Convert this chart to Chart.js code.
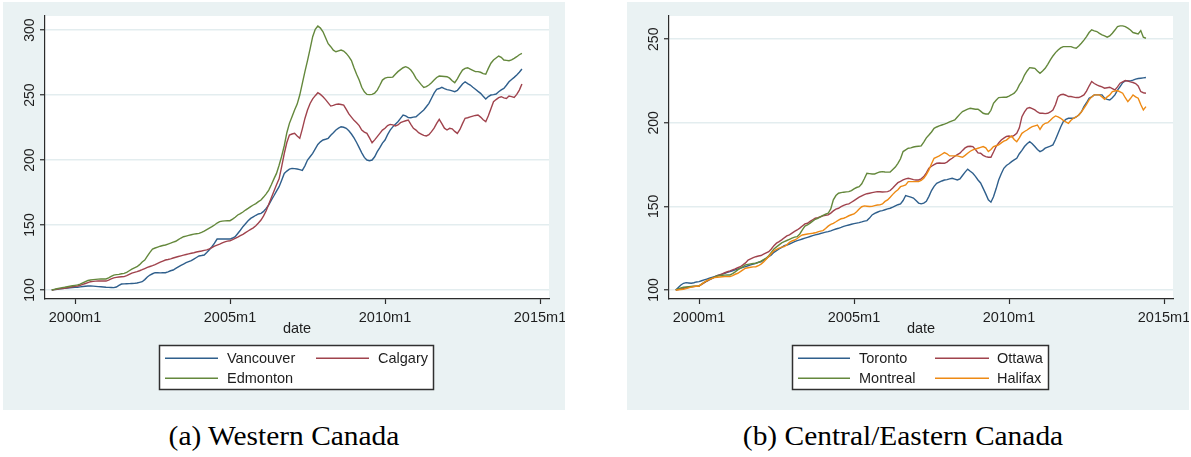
<!DOCTYPE html>
<html>
<head>
<meta charset="utf-8">
<script src="https://cdn.jsdelivr.net/npm/chart.js@4.4.0/dist/chart.umd.min.js"></script>
<style>
  html, body { margin: 0; padding: 0; background: #fff; width: 1191px; height: 457px; overflow: hidden; position: relative; }
  canvas { position: absolute; }
  #west { left: 3px; top: 2px; }
  #east { left: 627px; top: 2px; }
  .cap { position: absolute; top: 423px; font-family: "Liberation Serif", "Times New Roman", serif; font-size: 27px; line-height: 1; white-space: nowrap; color: #000; transform: translateX(-50%) scaleX(1.09); }
</style>
</head>
<body>
<canvas id="west" width="562" height="408"></canvas>
<canvas id="east" width="562" height="408"></canvas>
<div class="cap" style="left:284px">(a) Western Canada</div>
<div class="cap" style="left:903px">(b) Central/Eastern Canada</div>
<script>
// Monthly house price indices, first observation = 1999m4 (index 100)
const FIRST_YEAR = 1999;
const FIRST_MONTH = 4;

const vancouver = [
  100, 100.3, 100.6, 100.9, 101.1, 101.3, 101.5, 101.7, 101.9,
  102.0, 102.1, 102.4, 102.7, 102.9, 103.1, 103.1, 103.0, 102.8, 102.6, 102.5, 102.3,
  102.1, 102.0, 101.9, 101.8, 102.3, 103.5, 104.6, 104.7, 104.8, 104.9, 105.0, 105.1,
  105.4, 105.9, 106.4, 108.0, 110.0, 111.5, 112.5, 113.3, 113.3, 113.2, 113.3, 113.3,
  114.0, 114.8, 115.4, 116.6, 117.8, 119.0, 120.0, 121.0, 121.8, 122.6, 123.8, 125.0,
  126.2, 126.5, 126.9, 128.8, 131.0, 133.3, 136.0, 139.2, 139.3, 139.2, 139.2, 139.2,
  139.2, 140.0, 141.0, 143.5, 146.0, 148.7, 151.0, 153.2, 155.1, 156.3, 157.5, 158.5,
  159.0, 160.5, 162.8, 165.5, 169.2, 172.5, 176.0, 179.5, 184.5, 189.7, 191.5, 193.0,
  193.6, 193.4, 193.1, 192.6, 192.0, 195.5, 200.0, 202.5, 205.1, 208.5, 212.0, 214.0,
  215.4, 216.0, 216.7, 219.0, 221.0, 223.1, 224.5, 225.6, 225.2, 224.4, 222.5, 220.0,
  217.0, 213.5, 209.5, 205.5, 202.0, 200.0, 199.5, 200.0, 202.5, 206.4, 209.5, 213.0,
  215.4, 219.5, 223.0, 225.5, 227.5, 229.5, 232.0, 234.6, 234.0, 232.6, 232.5, 233.0,
  233.3, 235.0, 236.8, 238.5, 241.0, 243.6, 247.5, 251.5, 254.4, 255.0, 255.9, 255.0,
  254.2, 253.8, 253.2, 252.6, 253.5, 256.0, 258.5, 260.2, 258.8, 257.7, 256.0, 254.4,
  252.8, 251.3, 249.0, 246.9, 248.8, 250.0, 250.3, 250.8, 252.5, 254.0, 255.1, 257.5,
  260.2, 262.0, 263.6, 265.5, 267.5, 270.0
];

const calgary = [
  100, 100.3, 100.6, 100.9, 101.1, 101.3, 101.7, 102.1, 102.5,
  102.8, 103.1, 103.6, 104.3, 105.0, 105.7, 106.4, 106.6, 106.8, 106.9, 106.9, 106.9,
  106.9, 107.6, 108.5, 109.3, 109.7, 110.0, 110.2, 110.3, 111.0, 112.0, 113.0, 113.6,
  114.1, 114.8, 115.6, 116.5, 117.4, 118.1, 118.8, 119.6, 120.5, 121.4, 122.3, 123.1,
  123.5, 124.0, 124.6, 125.2, 125.8, 126.3, 126.8, 127.3, 127.8, 128.3, 128.7, 129.2,
  129.6, 130.0, 130.5, 130.9, 131.7, 132.7, 133.7, 134.6, 135.3, 136.2, 137.0, 137.6,
  137.9, 138.7, 139.7, 140.7, 141.8, 142.8, 144.1, 145.4, 146.6, 147.8, 149.5, 151.5,
  153.8, 157.0, 161.0, 166.0, 171.0, 176.0, 181.0, 185.5, 195.0, 205.0, 213.5, 219.2,
  220.0, 220.5, 218.5, 216.7, 224.0, 232.0, 238.5, 243.5, 247.0, 249.5, 251.8, 250.5,
  248.7, 246.5, 244.0, 241.5, 242.0, 242.8, 243.1, 242.7, 242.3, 239.0, 235.5, 233.0,
  230.5, 228.7, 226.5, 223.1, 221.5, 220.5, 217.0, 213.3, 215.5, 218.0, 220.5, 223.0,
  224.4, 226.5, 227.4, 227.0, 226.2, 227.0, 228.7, 229.5, 230.2, 230.8, 227.5, 224.4,
  223.0, 221.0, 220.0, 219.0, 218.5, 219.5, 221.8, 224.5, 228.2, 231.3, 228.0, 224.5,
  223.1, 224.4, 224.0, 222.0, 220.5, 223.5, 228.0, 232.1, 232.5, 233.2, 233.8, 234.3,
  234.6, 233.0, 231.0, 229.5, 234.0, 239.5, 244.9, 246.5, 248.0, 248.7, 247.8, 247.4,
  249.2, 248.8, 248.2, 250.5, 253.8, 258.5
];

const edmonton = [
  100, 100.5, 101.0, 101.4, 101.8, 102.1, 102.5, 102.9, 103.3,
  103.6, 103.9, 104.5, 105.5, 106.5, 107.3, 107.7, 108.0, 108.2, 108.4, 108.5, 108.5,
  108.5, 109.3, 110.5, 111.5, 111.8, 112.0, 112.5, 112.8, 113.5, 114.8, 116.0, 117.0,
  117.9, 119.5, 121.5, 123.0, 126.0, 129.0, 131.5, 132.3, 133.0, 133.7, 134.2, 134.6,
  135.3, 136.0, 136.8, 137.5, 138.8, 140.0, 141.0, 141.5, 142.0, 142.5, 143.0, 143.3,
  143.6, 144.3, 145.3, 146.5, 147.6, 148.7, 150.0, 151.5, 152.6, 153.0, 153.2, 153.3,
  153.3, 154.5, 156.0, 157.7, 158.8, 160.0, 161.5, 162.8, 164.2, 165.4, 166.5, 168.0,
  169.2, 171.5, 174.0, 176.9, 181.0, 185.5, 189.7, 196.0, 203.0, 211.0, 221.0, 228.2,
  233.3, 238.5, 243.0, 250.0, 259.0, 268.0, 276.5, 285.5, 294.9, 300.5, 303.1, 301.5,
  298.7, 294.0, 289.5, 287.2, 284.5, 283.3, 284.0, 284.6, 283.8, 282.0, 279.5, 276.5,
  271.0, 266.0, 261.5, 256.0, 252.5, 250.5, 250.3, 250.5, 251.5, 253.8, 257.5, 261.5,
  263.0, 263.6, 263.6, 263.8, 266.0, 268.0, 269.5, 271.0, 271.8, 271.0, 269.2, 266.5,
  262.8, 260.5, 258.0, 255.9, 256.5, 257.7, 259.5, 261.5, 263.5, 264.6, 264.5, 264.3,
  264.1, 263.0, 261.0, 259.5, 262.5, 266.0, 269.2, 270.5, 271.0, 270.0, 269.0, 268.0,
  268.0, 267.5, 266.5, 266.0, 270.5, 274.5, 276.9, 278.5, 280.0, 279.0, 276.9, 276.7,
  276.4, 277.0, 278.2, 279.5, 281.0, 282.0
];

const toronto = [
  100, 101.5, 103.0, 104.0, 104.4, 104.2, 104.0, 104.3, 104.8,
  105.0, 105.5, 106.0, 106.5, 107.0, 107.5, 108.0, 108.5, 109.0, 109.5, 110.0, 110.5,
  111.0, 111.5, 112.0, 112.5, 113.0, 113.5, 114.0, 114.5, 115.0, 115.5, 116.0, 116.6,
  116.9, 117.8, 118.8, 119.9, 121.0, 122.5, 123.5, 124.5, 125.5, 126.5, 126.9, 127.5,
  128.2, 128.9, 129.5, 130.0, 130.5, 131.0, 131.5, 132.0, 132.5, 133.0, 133.3, 133.8,
  134.2, 134.6, 134.9, 135.4, 136.0, 136.5, 136.9, 137.4, 138.0, 138.5, 138.9, 139.3,
  139.7, 140.0, 140.3, 140.7, 141.2, 141.5, 143.0, 144.9, 145.8, 146.5, 147.2, 147.5,
  148.0, 148.5, 148.9, 149.5, 150.3, 151.0, 151.5, 153.5, 156.5, 156.0, 155.5, 155.0,
  153.5, 152.0, 151.5, 152.0, 153.0, 156.0, 159.5, 162.0, 163.8, 164.5, 165.2, 165.8,
  166.0, 166.5, 166.8, 166.3, 165.8, 166.5, 168.5, 170.5, 172.3, 171.0, 169.8, 168.0,
  165.8, 164.0, 160.8, 157.5, 153.9, 152.5, 155.8, 160.5, 165.8, 169.5, 172.8, 174.5,
  175.5, 176.8, 177.8, 178.8, 181.5, 183.5, 185.8, 187.5, 188.7, 187.5, 185.8, 184.0,
  182.8, 183.5, 184.8, 185.5, 186.0, 186.8, 190.0, 193.8, 197.5, 200.7, 202.0, 202.7,
  202.7, 202.7, 203.5, 204.7, 206.5, 209.7, 212.0, 214.7, 215.5, 216.7, 216.7, 216.7,
  216.7, 214.7, 214.0, 213.7, 215.0, 216.7, 219.5, 221.7, 224.0, 225.1, 225.1, 225.1,
  225.5, 226.1, 226.5, 226.7, 226.9, 227.1
];

const ottawa = [
  100, 100.3, 100.7, 101.0, 101.3, 101.6, 101.9, 102.1, 102.3,
  102.4, 103.3, 104.2, 105.2, 106.0, 106.8, 107.7, 108.5, 109.0, 109.6, 110.3, 110.9,
  111.4, 112.0, 112.6, 113.3, 113.9, 115.0, 116.2, 117.9, 118.6, 119.3, 119.9, 120.3,
  120.6, 121.4, 122.2, 122.9, 124.5, 126.5, 128.0, 128.9, 130.0, 131.2, 132.3, 133.0,
  134.0, 135.0, 135.9, 137.0, 138.3, 139.5, 139.9, 141.0, 142.0, 142.9, 143.3, 143.8,
  144.3, 144.6, 144.9, 146.0, 147.3, 148.4, 148.9, 149.8, 150.6, 151.2, 151.5, 152.5,
  153.5, 154.5, 155.5, 156.3, 157.0, 157.6, 157.9, 158.2, 158.5, 158.8, 158.8, 158.6,
  158.7, 158.8, 159.5, 161.0, 162.7, 164.2, 165.0, 165.8, 166.5, 166.8, 166.5, 166.0,
  165.8, 165.8, 166.5, 167.8, 170.0, 172.8, 174.0, 175.0, 175.8, 176.0, 175.8, 175.8,
  176.5, 177.8, 178.8, 180.0, 181.0, 181.8, 183.5, 185.0, 185.8, 186.0, 185.8, 184.0,
  182.0, 181.8, 180.5, 179.8, 179.4, 179.4, 182.5, 185.8, 188.0, 189.7, 190.8, 191.8,
  192.1, 191.7, 192.5, 193.7, 197.0, 203.7, 206.5, 208.7, 209.1, 208.5, 207.7, 206.5,
  205.7, 205.7, 205.5, 205.7, 206.5, 207.7, 211.0, 215.7, 216.8, 217.1, 216.5, 215.7,
  215.7, 215.4, 215.1, 215.1, 215.8, 216.7, 219.0, 222.0, 224.7, 223.5, 222.7, 222.0,
  221.5, 220.7, 221.0, 221.3, 220.5, 219.7, 221.5, 223.7, 224.5, 225.3, 225.0, 224.5,
  224.1, 223.5, 222.1, 218.7, 218.0, 217.7
];

const montreal = [
  100, 100.6, 101.2, 101.6, 101.8, 102.0, 102.1, 102.2, 102.3,
  102.4, 103.5, 104.6, 105.5, 106.3, 107.0, 107.7, 108.4, 108.6, 108.8, 108.9, 109.0,
  109.0, 109.8, 110.8, 112.0, 113.0, 114.0, 115.0, 115.3, 115.6, 115.8, 116.0, 116.5,
  117.2, 118.1, 119.0, 120.5, 122.5, 124.5, 125.8, 127.0, 128.2, 128.9, 129.6, 130.3,
  131.0, 131.6, 131.9, 133.5, 136.0, 138.2, 138.9, 140.0, 141.2, 142.3, 142.9, 143.7,
  144.6, 145.3, 145.9, 148.5, 153.9, 156.5, 157.9, 158.2, 158.5, 158.7, 158.8, 159.5,
  160.5, 161.3, 161.8, 163.5, 166.5, 169.8, 169.6, 169.4, 169.4, 170.0, 170.6, 170.8,
  170.6, 170.5, 170.5, 172.0, 173.5, 175.8, 178.5, 182.8, 183.8, 184.8, 185.0, 185.5,
  185.8, 186.0, 186.2, 188.5, 191.0, 192.7, 194.5, 196.7, 197.5, 198.2, 198.7, 199.2,
  199.8, 200.5, 201.2, 201.7, 203.5, 205.2, 206.7, 207.5, 208.2, 208.7, 208.4, 208.1,
  208.1, 207.0, 205.7, 205.3, 205.3, 207.5, 211.7, 213.5, 215.1, 215.2, 215.3, 215.3,
  216.0, 216.8, 217.7, 219.5, 222.7, 225.0, 228.6, 231.0, 233.0, 232.8, 232.6, 231.0,
  229.6, 231.0, 232.6, 235.0, 237.6, 240.0, 242.0, 243.6, 244.8, 245.6, 245.6, 245.6,
  245.6, 245.0, 244.6, 246.0, 247.6, 249.5, 251.6, 254.0, 255.6, 255.0, 254.6, 253.5,
  252.6, 252.0, 251.2, 252.0, 253.6, 255.5, 257.6, 258.0, 258.0, 257.5, 256.6, 255.5,
  254.0, 253.6, 253.2, 255.2, 251.2, 250.6
];

const halifax = [
  100, 100.1, 100.3, 100.4, 100.8, 101.3, 101.7, 102.0, 102.2,
  102.4, 103.5, 104.6, 105.6, 106.3, 106.9, 107.4, 107.6, 107.8, 107.9, 108.0, 108.0,
  108.0, 108.6, 109.4, 110.0, 111.0, 112.0, 113.0, 113.3, 113.6, 113.8, 113.9, 114.5,
  115.5, 116.8, 118.4, 120.0, 121.8, 123.5, 124.3, 125.0, 125.6, 125.9, 127.0, 128.5,
  129.3, 129.9, 130.8, 132.0, 132.9, 133.2, 133.5, 133.7, 133.9, 134.2, 134.8, 135.2,
  135.5, 136.8, 138.2, 139.2, 139.9, 140.8, 141.8, 142.6, 142.9, 143.6, 144.4, 145.0,
  145.5, 146.8, 148.4, 149.8, 150.3, 150.1, 149.9, 150.0, 150.5, 150.8, 150.9, 151.5,
  153.0, 153.9, 155.5, 157.2, 158.8, 160.0, 161.8, 162.3, 162.8, 164.8, 164.8, 164.8,
  164.8, 164.8, 165.5, 166.8, 169.0, 171.8, 175.5, 178.8, 179.5, 180.2, 181.2, 182.2,
  181.5, 180.2, 180.2, 180.2, 180.2, 179.8, 179.4, 180.5, 181.8, 183.0, 183.8, 184.3,
  184.8, 185.3, 185.8, 185.0, 182.8, 184.0, 185.8, 186.3, 186.8, 188.0, 189.0, 189.7,
  191.0, 192.1, 190.0, 188.7, 191.0, 193.7, 194.8, 195.7, 196.8, 197.7, 198.2, 198.7,
  196.1, 198.5, 199.7, 200.1, 201.5, 203.0, 204.1, 203.5, 202.7, 201.5, 200.5, 199.7,
  201.5, 202.7, 203.5, 204.7, 206.5, 208.7, 211.0, 213.7, 215.5, 216.7, 216.7, 216.7,
  215.5, 214.1, 215.5, 216.7, 218.7, 219.0, 219.3, 218.5, 217.7, 215.0, 212.7, 214.5,
  216.7, 215.5, 214.7, 211.0, 207.7, 209.7
];

const westTicksY = [100, 150, 200, 250, 300];
const eastTicksY = [100, 150, 200, 250];
const dateTicks = [2000, 2005, 2010, 2015];
const dateTickLabels = ['2000m1', '2005m1', '2010m1', '2015m1'];

// Stata s2color look
const GRAPH_BG = '#EAF2F3';
const GRID = '#E3EDEF';
const AXIS = '#2b2b2b';
const TEXT = '#1e1e1e';
const SANS = '"Liberation Sans", Arial, Helvetica, sans-serif';
const COLORS = { navy: '#2F5F8C', maroon: '#A0434D', green: '#64883C', orange: '#EE8A14' };

function monthToYear(i) {
  return FIRST_YEAR + (FIRST_MONTH - 1 + i) / 12;
}
function toPoints(values) {
  return values.map((v, i) => ({ x: monthToYear(i), y: v }));
}

const stataFrame = {
  id: 'stataFrame',
  beforeDraw(chart) {
    const { ctx, chartArea: a, width, height } = chart;
    ctx.save();
    ctx.fillStyle = GRAPH_BG;
    ctx.fillRect(0, 0, width, height);
    ctx.fillStyle = '#ffffff';
    ctx.fillRect(a.left, a.top, a.right - a.left, a.bottom - a.top);
    ctx.restore();
  },
  afterDraw(chart, args, opts) {
    const { ctx, chartArea: a } = chart;
    const xs = chart.scales.x, ys = chart.scales.y;
    ctx.save();
    ctx.fillStyle = TEXT;

    // vertical tick labels on the y axis
    ctx.font = '14px ' + SANS;
    ctx.textAlign = 'center';
    ctx.textBaseline = 'alphabetic';
    ys.ticks.forEach(t => {
      const py = ys.getPixelForValue(t.value);
      ctx.save();
      ctx.translate(30.5, py);
      ctx.rotate(-Math.PI / 2);
      ctx.fillText(String(t.value), 0, 0);
      ctx.restore();
    });

    // date ticks and axis title
    ctx.font = '14.5px ' + SANS;
    xs.ticks.forEach((t, i) => {
      ctx.fillText(dateTickLabels[i], xs.getPixelForValue(t.value), 320);
    });
    ctx.fillText('date', (a.left + a.right) / 2, 331);

    // legend in two columns
    const lg = opts.legend;
    const [bx0, by0, bx1, by1] = lg.box;
    ctx.fillStyle = '#ffffff';
    ctx.fillRect(bx0, by0, bx1 - bx0, by1 - by0);
    ctx.strokeStyle = '#303030';
    ctx.lineWidth = 1.5;
    ctx.strokeRect(bx0 + 0.5, by0 + 0.5, bx1 - bx0 - 1, by1 - by0 - 1);
    ctx.textAlign = 'left';
    chart.data.datasets.forEach((ds, i) => {
      const col = lg.cols[i % 2];
      const row = lg.rows[Math.floor(i / 2)];
      ctx.strokeStyle = ds.borderColor;
      ctx.lineWidth = 1.5;
      ctx.beginPath();
      ctx.moveTo(col.line[0], row.line);
      ctx.lineTo(col.line[1], row.line);
      ctx.stroke();
      ctx.fillStyle = TEXT;
      ctx.fillText(ds.label, col.text, row.text);
    });
    ctx.restore();
  }
};

function makePanel(canvasId, series, yMin, yMax, yTicks, legend) {
  const n = series.length;
  return new Chart(document.getElementById(canvasId), {
    type: 'line',
    data: {
      datasets: series.map((s, i) => ({
        label: s.label,
        data: toPoints(s.values),
        borderColor: s.color,
        borderWidth: 1.4,
        pointRadius: 0,
        tension: 0,
        fill: false,
        order: n - i
      }))
    },
    options: {
      responsive: false,
      animation: false,
      devicePixelRatio: 1,
      layout: { padding: { left: 0, top: 14, right: 16, bottom: 0 } },
      plugins: {
        legend: { display: false },
        tooltip: { enabled: false },
        stataFrame: { legend }
      },
      scales: {
        x: {
          type: 'linear',
          min: 1999.032,
          max: 2015.29,
          afterBuildTicks: s => { s.ticks = dateTicks.map(v => ({ value: v })); },
          afterFit: s => { s.height = 111; },
          ticks: { display: false },
          grid: { drawOnChartArea: false, drawTicks: true, tickLength: 5, tickColor: AXIS, tickWidth: 1.2 },
          border: { display: true, color: AXIS, width: 1.2 }
        },
        y: {
          type: 'linear',
          min: yMin,
          max: yMax,
          afterBuildTicks: s => { s.ticks = yTicks.map(v => ({ value: v })); },
          afterFit: s => { s.width = 42; },
          ticks: { display: false },
          grid: { color: GRID, lineWidth: 1.5, drawTicks: true, tickLength: 5, tickColor: AXIS, tickWidth: 1.2 },
          border: { display: true, color: AXIS, width: 1.2 }
        }
      }
    },
    plugins: [stataFrame]
  });
}

makePanel('west', [
  { label: 'Vancouver', values: vancouver, color: COLORS.navy },
  { label: 'Calgary', values: calgary, color: COLORS.maroon },
  { label: 'Edmonton', values: edmonton, color: COLORS.green }
], 93.08, 310.8, westTicksY, {
  box: [156, 343, 431, 388],
  cols: [{ line: [162, 215], text: 224 }, { line: [313, 366], text: 375 }],
  rows: [{ line: 356.3, text: 361 }, { line: 376.3, text: 381 }]
});

makePanel('east', [
  { label: 'Toronto', values: toronto, color: COLORS.navy },
  { label: 'Ottawa', values: ottawa, color: COLORS.maroon },
  { label: 'Montreal', values: montreal, color: COLORS.green },
  { label: 'Halifax', values: halifax, color: COLORS.orange }
], 94.6, 263.9, eastTicksY, {
  box: [165, 343, 422, 388],
  cols: [{ line: [171, 223], text: 232 }, { line: [308, 362], text: 370 }],
  rows: [{ line: 356.3, text: 361 }, { line: 376.3, text: 381 }]
});
</script>
</body>
</html>
